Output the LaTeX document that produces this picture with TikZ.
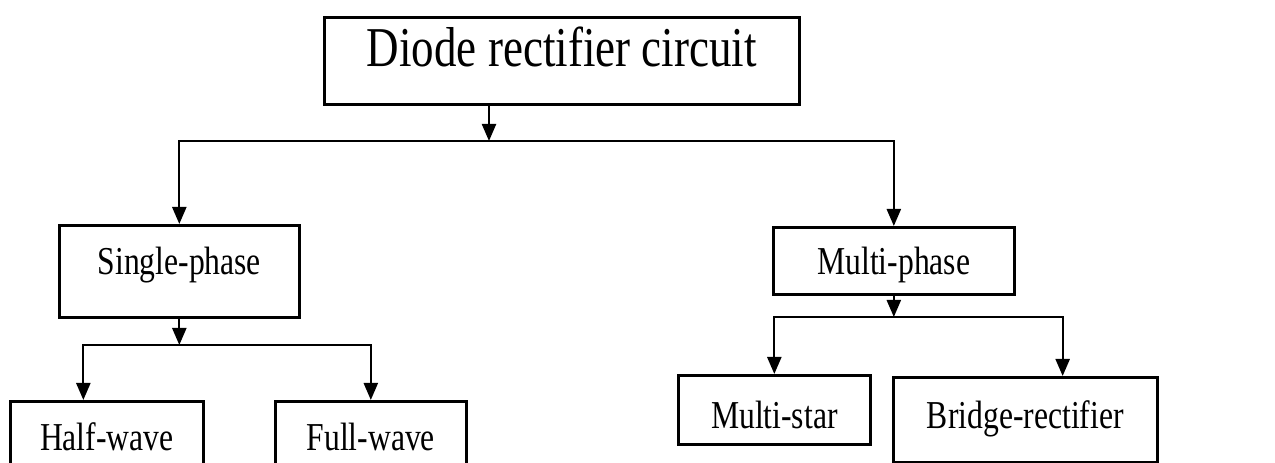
\documentclass[tikz,border=0pt]{standalone}
\usepackage{fontspec}
\setmainfont{Liberation Serif}[FakeStretch=0.8]
\usetikzlibrary{arrows.meta,calc}

\begin{document}
\begin{tikzpicture}[x=0.2mm, y=-0.2mm, line width=1.3pt,
			blk/.style={draw, line width=1.5pt, inner sep=0pt, anchor=north west, font=\fontsize{22.5}{24}\selectfont},
			arr/.style={-{Triangle[width=2.8mm,length=3.4mm]}}]
			\path[use as bounding box, clip] (0,0) rectangle (1275,463);
			\node[blk, minimum width=95mm, text height=9.8mm, text depth=7.6mm, font=\fontsize{32}{34}\selectfont] (dr) at (323,16) {Diode rectifier circuit};
			\node[blk, minimum width=48mm, text height=9.8mm, text depth=8.6mm] (sp) at (58,224) {Single-phase};
			\node[blk, minimum width=48.2mm, text height=9.4mm, text depth=4mm] (mp) at (772,226) {Multi-phase};
			\node[blk, minimum width=38.6mm, text height=9.8mm, text depth=8.4mm] (hw) at (9,400) {Half-wave};
			\node[blk, minimum width=38.2mm, text height=9.8mm, text depth=8.4mm] (fw) at (274,400) {Full-wave};
			\node[blk, minimum width=38.4mm, text height=10.6mm, text depth=3.2mm] (ms) at (677,374) {Multi-star};
			\node[blk, minimum width=52.8mm, text height=10.2mm, text depth=6.8mm] (br) at (892,376) {Bridge-rectifier};
			\coordinate (j1) at (489,141);
			\coordinate (j2) at (sp.south |- 0,345);
			\coordinate (j3) at (mp.south |- 0,317);
			\draw[arr] (dr.south -| j1) -- (j1);
			\draw[arr] (j1) -| (sp.north);
			\draw[arr] (j1) -| (mp.north);
			\draw[arr] (sp.south) -- (j2);
			\draw[arr] (j2) -| ($(hw.north west)!0.38!(hw.north east)$);
			\draw[arr] (j2) -| (fw.north);
			\draw[arr] (mp.south) -- (j3);
			\draw[arr] (j3) -| (ms.north);
			\draw[arr] (j3) -| ($(br.north west)!0.64!(br.north east)$);
		\end{tikzpicture}
\end{document}
